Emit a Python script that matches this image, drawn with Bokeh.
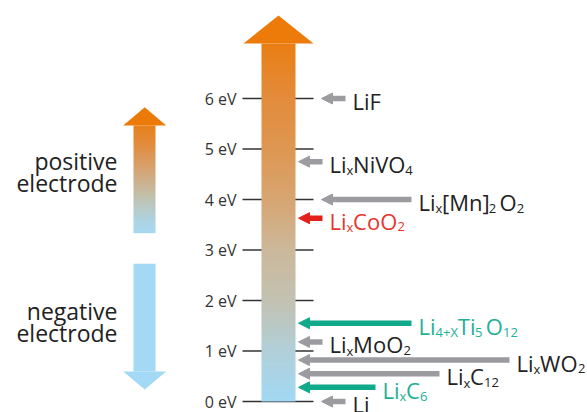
import numpy as np
from bokeh.plotting import figure
from bokeh.models import Range1d, ColumnDataSource, Arrow, NormalHead
from bokeh.embed import file_html
from bokeh.resources import INLINE
from bokeh.core.properties import value

# ---------------- data ----------------
TICK_EV = [0, 1, 2, 3, 4, 5, 6]
TICK_LABELS = ["0 eV", "1 eV", "2 eV", "3 eV", "4 eV", "5 eV", "6 eV"]

COMPOUND_EV = [6.0, 4.75, 4.0, 3.63, 1.55, 1.18, 0.82, 0.55, 0.28, 0.0]
COMPOUND_LABELS = [
    [("LiF", 0)],
    [("Li", 0), ("x", 1), ("NiVO", 0), ("4", 1)],
    [("Li", 0), ("x", 1), ("[Mn]", 0), ("2 ", 1), ("O", 0), ("2", 1)],
    [("Li", 0), ("x", 1), ("CoO", 0), ("2", 1)],
    [("Li", 0), ("4+X", 1), ("Ti", 0), ("5 ", 1), ("O", 0), ("12", 1)],
    [("Li", 0), ("x", 1), ("MoO", 0), ("2", 1)],
    [("Li", 0), ("x", 1), ("WO", 0), ("2", 1)],
    [("Li", 0), ("x", 1), ("C", 0), ("12", 1)],
    [("Li", 0), ("x", 1), ("C", 0), ("6", 1)],
    [("Li", 0)],
]
COMPOUND_KIND = ["gray", "gray", "gray", "red", "green", "gray", "gray", "gray", "green", "gray"]

ELECTRODE_LABELS = [["positive", "electrode"], ["negative", "electrode"]]

# ---------------- layout / style ----------------
W, H = 587, 412
Y0PX = 401.0           # image y of 0 eV
PX = 303.0 / 6.0       # px per eV
def ev(py):
    return (Y0PX - py) / PX

ARROW_TIP_X = [321, 298, 321, 298, 298, 298, 298, 298, 298, 321]
ARROW_TAIL_X = [345, 322, 411, 322, 411, 322, 509, 439, 375, 345]

ARROW_COL = {"gray": "#9b9ba0", "red": "#e3211c", "green": "#10a98a"}
TEXT_COL = {"gray": "#222222", "red": "#e8352c", "green": "#22b096"}

FONT = value("Open Sans")
MAIN_SIZE = 22
SUB_SIZE = 13

CW = {' ': 0.26, '+': 0.572, '[': 0.30, ']': 0.30, 'C': 0.635, 'F': 0.539, 'L': 0.523,
      'M': 0.905, 'N': 0.742, 'O': 0.781, 'T': 0.531, 'V': 0.59, 'W': 0.942, 'X': 0.566,
      'i': 0.253, 'n': 0.614, 'o': 0.601, 'x': 0.504}
def tw(s, size):
    return sum(CW.get(c, 0.572) for c in s) * size

p = figure(width=W, height=H, x_range=Range1d(0, W),
           y_range=Range1d(ev(H), ev(0)),
           x_axis_type=None, y_axis_type=None, min_border=0,
           output_backend="svg", toolbar_location=None)
p.outline_line_color = None
p.grid.visible = False
p.background_fill_color = "white"

# tick lines
p.segment(x0=242, x1=313, y0=TICK_EV, y1=TICK_EV, line_color="#333333", line_width=1.5)
p.text(x=236, y=TICK_EV, text=TICK_LABELS, text_align="right", text_baseline="middle",
       text_font=FONT, text_font_size="16px", text_color="#333333")

def hex2rgb(h):
    h = h.lstrip("#")
    return [int(h[i:i + 2], 16) for i in (0, 2, 4)]

def grad_img(stops, n=300):
    t = np.linspace(0, 1, n)
    pos = [s[0] for s in stops]
    cols = np.array([hex2rgb(s[1]) for s in stops], dtype=float)
    img = np.empty((n, 2), dtype=np.uint32)
    v = img.view(dtype=np.uint8).reshape((n, 2, 4))
    for k in range(3):
        v[:, :, k] = np.interp(t, pos, cols[:, k])[:, None].astype(np.uint8)
    v[:, :, 3] = 255
    return img

# big arrow
shaft_top = ev(43)
big = grad_img([(0.0, "#a2d9f4"), (0.14, "#b2d0da"), (0.28, "#c3c2b2"), (0.42, "#ccb99c"),
                (0.57, "#d8a571"), (0.71, "#de9752"), (0.85, "#e38c3c"), (1.0, "#ea7f14")])
p.image_rgba(image=[big], x=261, y=0, dw=34, dh=shaft_top)
p.patch(x=[243, 313, 278], y=[shaft_top, shaft_top, ev(15)], fill_color="#ec7b0a", line_color=None)

# positive electrode arrow
pos_bot, pos_top = ev(232.7), ev(125)
pimg = grad_img([(0.0, "#a6daf3"), (0.12, "#aed4e2"), (0.35, "#c3c0aa"), (0.6, "#d8a270"),
                 (0.85, "#e38a38"), (1.0, "#e9801c")])
p.image_rgba(image=[pimg], x=133, y=pos_bot, dw=22, dh=pos_top - pos_bot)
p.patch(x=[122.7, 165.7, 144.2], y=[pos_top, pos_top, ev(106.7)], fill_color="#ec7a08", line_color=None)

# negative electrode arrow
p.quad(left=133, right=155, bottom=ev(371), top=ev(263.3), fill_color="#a3d9f4", line_color=None)
p.patch(x=[122.7, 165.7, 144.2], y=[ev(371), ev(371), ev(389)], fill_color="#a3d9f4", line_color=None)

# electrode labels
for (l1, l2), mid in zip(ELECTRODE_LABELS, [(160.5, 182.5), (310.5, 332.0)]):
    p.text(x=[117, 117], y=[ev(mid[0]), ev(mid[1])], text=[l1, l2], text_align="right",
           text_baseline="middle", text_font=FONT, text_font_size="23px", text_color="#222222")

# compound arrows
for kind in ["gray", "red", "green"]:
    idx = [i for i, k in enumerate(COMPOUND_KIND) if k == kind]
    src = ColumnDataSource(dict(x0=[ARROW_TAIL_X[i] for i in idx], x1=[ARROW_TIP_X[i] for i in idx],
                                y=[COMPOUND_EV[i] for i in idx]))
    c = ARROW_COL[kind]
    p.add_layout(Arrow(end=NormalHead(size=11, fill_color=c, line_color=c, line_width=1),
                       x_start="x0", y_start="y", x_end="x1", y_end="y", source=src,
                       line_color=c, line_width=5.5))

# compound labels
cols = {k: [] for k in ["x", "y", "text", "xo", "yo", "size", "color"]}
for i, pieces in enumerate(COMPOUND_LABELS):
    x0 = ARROW_TAIL_X[i] + 7
    off = 0.0
    for s, sub in pieces:
        size = SUB_SIZE if sub else MAIN_SIZE
        cols["x"].append(x0)
        cols["y"].append(COMPOUND_EV[i])
        cols["text"].append(s)
        cols["xo"].append(off)
        cols["yo"].append(8.8 if sub else 2.5)
        cols["size"].append(f"{size}px")
        cols["color"].append(TEXT_COL[COMPOUND_KIND[i]])
        off += tw(s, size)
lsrc = ColumnDataSource(cols)
p.text(x="x", y="y", text="text", x_offset="xo", y_offset="yo", text_font_size={"field": "size"},
       text_color="color", text_font=FONT, text_baseline="middle", text_align="left", source=lsrc)

open("out.html", "w").write(file_html(p, INLINE))
